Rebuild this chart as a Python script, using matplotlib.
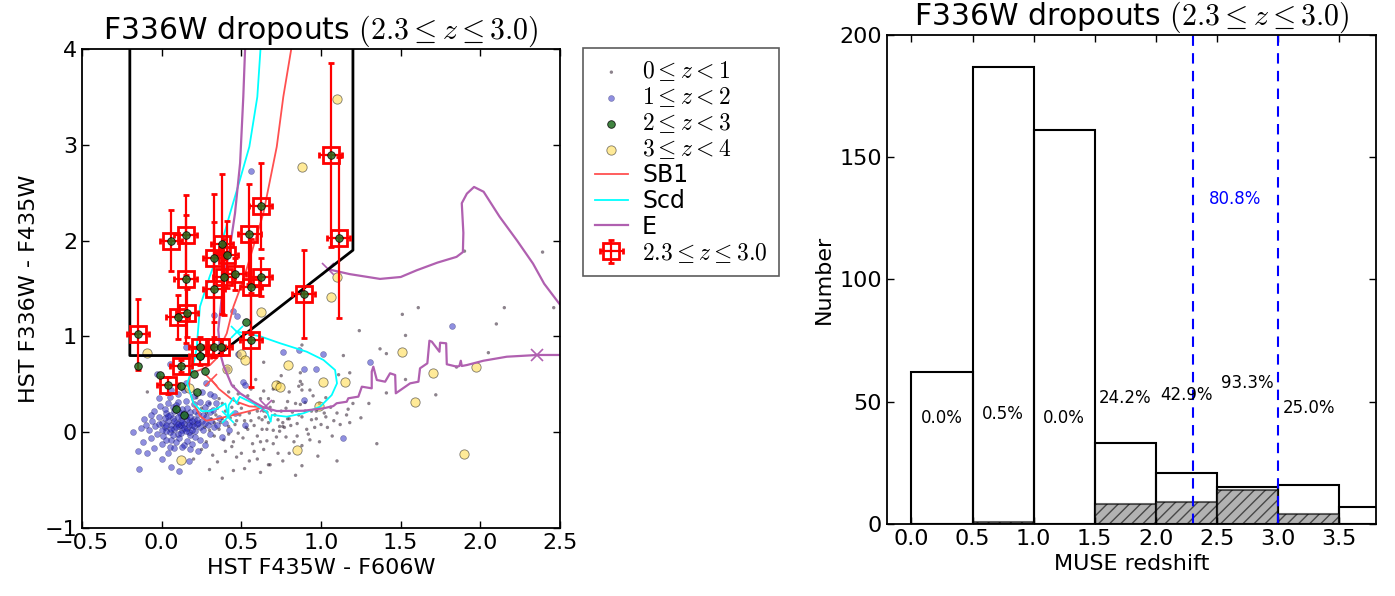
import numpy as np
import matplotlib.pyplot as plt

plt.rcParams['mathtext.fontset'] = 'cm'
plt.rcParams['font.family'] = 'DejaVu Sans'
plt.rcParams['xtick.direction'] = 'in'
plt.rcParams['ytick.direction'] = 'in'
plt.rcParams['xtick.top'] = True
plt.rcParams['ytick.right'] = True

# ---------------- left panel: colour-colour diagram ----------------
# (F435W - F606W, F336W - F435W) per redshift bin
pts_z01 = [
    (0.25, 0.25), (0.28, 0.20), (0.31, 0.14), (0.34, 0.18), (0.37, 0.10), (0.40, 0.22),
    (0.43, 0.15), (0.46, 0.08), (0.49, 0.18), (0.52, 0.12), (0.55, 0.20), (0.58, 0.07),
    (0.61, 0.15), (0.64, 0.22), (0.67, 0.10), (0.70, 0.02), (0.73, 0.13), (0.76, 0.06),
    (0.79, 0.14), (0.82, 0.21), (0.85, 0.09), (0.88, 0.16), (0.91, 0.03), (0.94, 0.13),
    (0.97, 0.22), (1.00, 0.08), (1.03, 0.16), (1.06, 0.26), (1.10, 0.20), (1.16, 0.18),
    (1.18, 0.10), (0.30, 0.02), (0.33, -0.04), (0.36, 0.03), (0.39, -0.08), (0.42, -0.02),
    (0.45, -0.10), (0.48, -0.01), (0.51, -0.06), (0.54, 0.03), (0.57, -0.12), (0.60, -0.04),
    (0.63, 0.03), (0.66, -0.09), (0.70, -0.12), (0.74, 0.01), (0.78, -0.05), (0.85, -0.04),
    (0.88, -0.14), (0.92, -0.02), (1.07, -0.04), (1.35, -0.12), (0.58, -0.20), (0.67, -0.34),
    (0.88, -0.35), (0.40, -0.20), (0.47, -0.26), (0.35, -0.31), (0.52, -0.38), (0.28, -0.10),
    (0.25, -0.18), (0.32, -0.24), (0.20, -0.28), (0.62, -0.42), (0.36, 0.35), (0.42, 0.42),
    (0.48, 0.30), (0.54, 0.38), (0.59, 0.29), (0.64, 0.43), (0.67, 0.35), (0.70, 0.32),
    (0.79, 0.32), (0.84, 0.30), (0.87, 0.29), (0.90, 0.31), (0.88, 0.44), (0.93, 0.44),
    (0.87, 0.53), (0.88, 0.50), (0.86, 0.48), (0.73, 0.52), (0.59, 0.55), (0.75, 0.59),
    (0.87, 0.62), (1.11, 0.60), (1.18, 0.62), (0.64, 0.73), (0.88, 0.91), (1.14, 0.80),
    (1.41, 0.41), (1.17, 0.24), (0.66, 0.21), (0.63, 0.13), (0.76, 0.10), (0.74, 0.06),
    (0.77, 0.05), (0.66, 0.03), (0.97, 0.14), (0.80, 0.14), (1.02, 0.20), (0.94, 0.22),
    (1.24, 1.06), (1.37, 0.87), (1.41, 0.82), (1.51, 1.23), (1.53, 1.01), (1.61, 1.30),
    (1.90, 1.89), (2.39, 1.88), (2.46, 1.30), (2.15, 1.30), (2.10, 1.13), (2.05, 0.83),
    (1.72, 0.39), (1.85, 0.68), (1.53, 0.55), (1.30, 0.30), (1.10, -0.30), (-0.09, 0.42),
    (0.30, -0.39), (0.68, -0.34), (0.22, 0.36), (0.45, 0.48), (0.99, -0.10), (0.80, -0.22),
    (0.35, 0.25), (0.38, 0.30), (0.44, 0.26), (0.47, 0.12), (0.50, 0.25), (0.53, 0.05),
    (0.56, 0.12), (0.60, 0.22), (0.62, -0.10), (0.65, 0.16), (0.68, 0.26), (0.71, 0.18),
    (0.72, -0.05), (0.75, 0.22), (0.78, 0.25), (0.81, 0.07), (0.83, -0.10), (0.86, 0.18),
    (0.90, 0.22), (0.93, -0.08), (0.96, 0.05), (0.99, 0.30), (1.04, 0.05), (1.08, 0.12),
    (1.12, 0.08), (1.20, 0.30), (1.25, 0.15), (0.44, -0.15), (0.50, -0.22), (0.55, -0.30),
    (0.60, -0.28), (0.64, -0.18), (0.73, -0.22), (0.76, -0.30), (0.42, 0.06), (0.38, 0.14),
    (0.30, 0.30), (0.27, 0.05), (0.33, 0.10), (0.48, 0.40), (0.56, 0.45), (0.62, 0.35),
    (0.95, 0.38), (1.03, 0.36), (0.98, -0.25), (0.84, -0.45), (0.45, -0.40), (0.38, -0.48),
    (0.70, 0.45), (0.80, 0.42),
]
pts_z12 = [
    (0.00, 0.10), (0.02, 0.05), (0.04, 0.12), (0.05, 0.00), (0.06, 0.08), (0.07, 0.15),
    (0.08, 0.03), (0.09, 0.10), (0.10, -0.02), (0.11, 0.06), (0.12, 0.13), (0.13, 0.02),
    (0.14, 0.09), (0.15, 0.17), (0.16, 0.04), (0.17, 0.11), (0.18, -0.03), (0.19, 0.07),
    (0.20, 0.14), (0.21, 0.01), (0.22, 0.09), (0.23, 0.19), (0.24, 0.05), (0.25, 0.12),
    (0.03, 0.20), (0.08, 0.22), (0.13, 0.24), (0.18, 0.21), (0.01, -0.04), (0.06, -0.08),
    (0.11, -0.06), (0.16, -0.09), (0.21, -0.05), (0.26, 0.02), (0.28, 0.16), (0.30, 0.21),
    (0.27, 0.26), (0.32, 0.23), (0.29, 0.08), (-0.02, 0.16), (-0.04, 0.06), (-0.06, 0.12),
    (-0.03, -0.02), (-0.08, 0.02), (-0.10, 0.08), (-0.05, 0.22), (-0.01, 0.27), (0.04, 0.30),
    (0.10, 0.31), (0.15, 0.33), (0.20, 0.29), (0.24, 0.32), (0.34, 0.30), (0.12, 0.18),
    (0.07, 0.26), (0.17, 0.00), (0.03, 0.01), (0.09, -0.10), (0.14, -0.13), (0.19, -0.12),
    (0.24, -0.08), (0.05, -0.15), (0.00, -0.12), (-0.05, -0.17), (0.04, -0.22), (0.13, -0.15),
    (0.23, -0.20), (0.06, -0.36), (-0.14, -0.38), (-0.18, 0.00), (-0.12, -0.10), (-0.09, -0.22),
    (0.15, 0.89), (0.05, 0.71), (-0.03, 0.61), (0.15, 0.51), (0.28, 0.51), (0.20, 0.38),
    (0.51, 0.52), (0.48, 0.82), (0.76, 0.84), (0.86, 0.86), (1.01, 0.82), (0.41, 0.66),
    (0.45, 1.26), (0.47, 1.21), (0.33, 1.22), (0.56, 2.73), (0.89, 0.66), (0.97, 0.66),
    (0.52, 0.49), (1.31, 0.73), (0.89, 0.34), (1.14, -0.06), (0.52, 0.08), (1.82, 1.11),
    (0.30, 0.40), (0.36, 0.15), (0.40, 0.10), (0.33, 0.05), (0.42, 0.02), (0.38, -0.05),
    (0.46, 0.20), (0.30, -0.02), (0.27, 0.10), (0.10, 0.40), (0.06, 0.44),
    (0.02, 0.15), (0.05, 0.18), (0.08, 0.12), (0.10, 0.16), (0.12, 0.08), (0.14, 0.04),
    (0.16, 0.14), (0.18, 0.16), (0.20, 0.06), (0.22, 0.13), (0.11, 0.21), (0.06, 0.03),
    (0.09, 0.05), (0.13, 0.11), (0.17, 0.07), (0.03, 0.08), (0.00, 0.02), (-0.02, 0.09),
    (0.07, -0.03), (0.12, -0.01), (0.15, 0.01), (0.19, 0.02), (0.23, 0.10), (0.26, 0.18),
    (0.21, 0.22), (0.16, 0.25), (0.09, 0.28), (0.02, 0.24), (-0.07, 0.18), (-0.11, 0.14),
    (-0.13, 0.04), (-0.07, -0.06), (0.03, -0.08), (0.08, -0.17), (0.18, -0.18), (0.27, -0.13),
    (0.31, 0.12), (0.35, 0.08), (0.29, 0.30), (0.33, 0.38), (0.25, 0.42), (0.14, 0.44),
    (-0.02, 0.36), (0.05, 0.37), (0.19, 0.12), (0.10, 0.09), (0.04, 0.17), (0.14, 0.20),
    (-0.15, -0.20), (0.00, -0.28), (0.17, -0.30), (0.11, -0.40),
]
pts_z23_extra = [
    (-0.15, 0.69), (0.53, 1.15), (-0.01, 0.60), (0.20, 0.61), (0.27, 0.64),
    (0.12, 0.48), (0.22, 0.42), (0.09, 0.24), (0.14, 0.18), (0.24, 0.80),
]
pts_z34 = [
    (1.10, 3.48), (0.88, 2.77), (1.10, 1.62), (1.06, 1.41), (0.62, 1.25), (-0.09, 0.83),
    (0.50, 0.82), (0.52, 0.75), (0.41, 0.66), (0.79, 0.70), (0.17, 0.46), (0.12, -0.29),
    (0.72, 0.49), (0.74, 0.47), (0.85, -0.19), (1.51, 0.84), (1.70, 0.62), (1.01, 0.52),
    (1.15, 0.52), (0.99, 0.27), (1.59, 0.31), (1.97, 0.68), (1.90, -0.23),
]

# MUSE sources with 2.3 <= z <= 3.0
sel_x = [1.06, 1.11, 0.62, 0.55, 0.15, 0.06, 0.38, 0.41, 0.33, 0.46, 0.39, 0.62, 0.15,
         0.56, 0.33, 0.89, 0.16, 0.10, -0.15, 0.56, 0.24, 0.33, 0.37, 0.24, 0.12, 0.04]
sel_y = [2.89, 2.03, 2.36, 2.07, 2.06, 2.00, 1.96, 1.85, 1.82, 1.65, 1.62, 1.62, 1.60,
         1.52, 1.49, 1.44, 1.24, 1.20, 1.02, 0.96, 0.89, 0.89, 0.89, 0.80, 0.69, 0.49]
sel_xerr = [0.07] * 26
sel_yerr = [0.96, 0.84, 0.45, 0.52, 0.42, 0.32, 0.73, 0.35, 0.67, 0.17, 0.40, 0.20, 0.67,
            0.50, 0.70, 0.46, 0.25, 0.23, 0.37, 0.49, 0.10, 0.10, 0.08, 0.10, 0.06, 0.09]

# galaxy template tracks
track_sb1 = [
    (0.31, 0.55), (0.36, 0.45), (0.45, 0.33), (0.55, 0.27), (0.64, 0.26), (0.55, 0.22),
    (0.45, 0.18), (0.35, 0.14), (0.28, 0.12), (0.24, 0.17), (0.20, 0.30), (0.17, 0.45),
    (0.178, 0.615), (0.24, 0.649), (0.303, 0.701), (0.355, 0.788), (0.377, 0.928),
    (0.408, 1.03), (0.45, 1.31), (0.512, 1.589), (0.575, 1.936), (0.638, 2.285),
    (0.68, 2.632), (0.722, 2.98), (0.763, 3.5), (0.812, 3.99), (0.83, 4.3),
]
track_scd = [
    (0.47, 1.05), (0.62, 1.00), (0.74, 0.93), (0.91, 0.84), (1.015, 0.754), (1.088, 0.649),
    (1.10, 0.51), (1.067, 0.388), (0.994, 0.266), (0.889, 0.197), (0.785, 0.162),
    (0.69, 0.18), (0.684, 0.11), (0.66, 0.214), (0.575, 0.30), (0.49, 0.37), (0.47, 0.30),
    (0.45, 0.36), (0.42, 0.28), (0.418, 0.156), (0.40, 0.30), (0.35, 0.25), (0.30, 0.22),
    (0.25, 0.22), (0.20, 0.30), (0.16, 0.51), (0.19, 0.65), (0.21, 0.79), (0.22, 0.89),
    (0.24, 1.31), (0.30, 1.62), (0.37, 1.94), (0.43, 2.29), (0.49, 2.63), (0.55, 2.98),
    (0.60, 3.50), (0.62, 4.00), (0.64, 4.30),
]
track_e = [
    (1.046, 1.70), (1.18, 1.65), (1.37, 1.60), (1.50, 1.62), (1.60, 1.69), (1.73, 1.77),
    (1.85, 1.83), (1.89, 1.88), (1.893, 2.08), (1.883, 2.39), (1.915, 2.49), (1.96, 2.56),
    (2.02, 2.51), (2.12, 2.25), (2.23, 2.00), (2.33, 1.76), (2.40, 1.55), (2.50, 1.33),
    (2.70, 1.00), (2.72, 0.81), (2.50, 0.806), (2.358, 0.806), (2.166, 0.788),
    (2.019, 0.746), (1.915, 0.701), (1.883, 0.691), (1.877, 0.746), (1.868, 0.691),
    (1.852, 0.684), (1.789, 0.709), (1.785, 0.928), (1.747, 0.934), (1.743, 0.84),
    (1.695, 0.945), (1.68, 0.955), (1.667, 0.719), (1.621, 0.667), (1.611, 0.527),
    (1.559, 0.51), (1.469, 0.406), (1.465, 0.597), (1.433, 0.615), (1.402, 0.527),
    (1.35, 0.545), (1.328, 0.684), (1.318, 0.632), (1.318, 0.458), (1.256, 0.475),
    (1.234, 0.371), (1.171, 0.354), (1.161, 0.318), (1.098, 0.302), (1.077, 0.273),
    (1.015, 0.249), (0.889, 0.224), (0.722, 0.221), (0.638, 0.26), (0.575, 0.318),
    (0.492, 0.406), (0.439, 0.493), (0.408, 0.615), (0.387, 0.701), (0.37, 0.806),
    (0.355, 1.067), (0.377, 1.41), (0.408, 1.76), (0.429, 1.936), (0.46, 2.285),
    (0.492, 2.81), (0.512, 3.50), (0.523, 3.99), (0.53, 4.3),
]
marks_sb1 = [(0.31, 0.55)]
marks_scd = [(0.418, 0.156), (0.47, 1.05)]
marks_e = [(1.046, 1.70), (2.358, 0.806), (0.655, 0.27)]

box_x = [-0.2, -0.2, 0.35, 1.2, 1.2]
box_y = [4.0, 0.8, 0.8, 1.9, 4.0]

# ---------------- right panel: redshift histogram ----------------
bin_edges = [0.0, 0.5, 1.0, 1.5, 2.0, 2.5, 3.0, 3.5, 4.0]
n_all = [62, 187, 161, 33, 21, 15, 16, 7]
n_drop = [0, 1, 0, 8, 9, 14, 4, 0]
pct_labels = ['0.0%', '0.5%', '0.0%', '24.2%', '42.9%', '93.3%', '25.0%']
pct_y = [43.5, 44.9, 43.5, 51.7, 52.8, 57.5, 47.6]
z_window = [2.3, 3.0]
window_label = '80.8%'

title = 'F336W dropouts $(2.3 \\leq z \\leq 3.0)$'

fig = plt.figure(figsize=(13.95, 5.96), dpi=100)
ax1 = fig.add_axes([0.0588, 0.1141, 0.3427, 0.8037])
ax2 = fig.add_axes([0.6358, 0.1208, 0.3505, 0.8205])

a = np.array(pts_z01)
ax1.scatter(a[:, 0], a[:, 1], s=6, c='#403040', edgecolors='none', alpha=0.6,
            label='$0 \\leq z < 1$')
a = np.array(pts_z12)
ax1.scatter(a[:, 0], a[:, 1], s=18, c='#2020c0', edgecolors='#202060', linewidths=0.4,
            alpha=0.5, label='$1 \\leq z < 2$')
g = np.array(pts_z23_extra + list(zip(sel_x, sel_y)))
ax1.scatter(g[:, 0], g[:, 1], s=30, c='#1f6e1f', edgecolors='k', linewidths=0.6,
            alpha=0.85, zorder=5, label='$2 \\leq z < 3$')
a = np.array(pts_z34)
ax1.scatter(a[:, 0], a[:, 1], s=45, c='#ffd633', edgecolors='k', linewidths=0.6,
            alpha=0.5, label='$3 \\leq z < 4$')

for trk, mk, col, lw, name in [(track_sb1, marks_sb1, '#ff5050', 1.3, 'SB1'),
                               (track_scd, marks_scd, 'cyan', 1.3, 'Scd'),
                               (track_e, marks_e, '#b060b0', 1.6, 'E')]:
    t = np.array(trk)
    ax1.plot(t[:, 0], t[:, 1], color=col, lw=lw, label=name)
    m = np.array(mk)
    ax1.plot(m[:, 0], m[:, 1], 'x', color=col, ms=9, mew=1.2)

ax1.plot(box_x, box_y, color='k', lw=2)

ax1.errorbar(sel_x, sel_y, xerr=sel_xerr, yerr=sel_yerr, fmt='s', mfc='none', mec='r',
             mew=2, ms=11, ecolor='r', elinewidth=1.6, capsize=2, capthick=1.2,
             label='$2.3 \\leq z \\leq 3.0$')

ax1.set_xlim(-0.5, 2.5)
ax1.set_ylim(-1, 4)
ax1.set_xticks([-0.5, 0.0, 0.5, 1.0, 1.5, 2.0, 2.5])
ax1.set_yticks([-1, 0, 1, 2, 3, 4])
ax1.set_xlabel('HST F435W - F606W', fontsize=16)
ax1.set_ylabel('HST F336W - F435W', fontsize=16)
ax1.set_title(title, fontsize=21.5, pad=4)

h, l = ax1.get_legend_handles_labels()
leg = ax1.legend(h, l, loc='upper left', bbox_to_anchor=(1.048, 1.003), borderaxespad=0,
                 fontsize=17, scatterpoints=1, numpoints=1, handlelength=1.4,
                 labelspacing=0.08, fancybox=False, frameon=True, handletextpad=0.6,
                 borderpad=0.5)
leg.get_frame().set_edgecolor('0.2')
leg.get_frame().set_linewidth(1.2)

# histogram
lefts = bin_edges[:-1]
ax2.bar(lefts, n_all, width=0.5, align='edge', fill=False, edgecolor='k', lw=1.5)
ax2.bar(lefts, n_drop, width=0.5, align='edge', facecolor='gray', edgecolor='k',
        alpha=0.6, hatch='///', lw=1.5)
for i, lab in enumerate(pct_labels):
    ax2.text(lefts[i] + 0.25, pct_y[i], lab, ha='center', va='center', fontsize=12)
for zz in z_window:
    ax2.axvline(zz, color='b', ls='--', dashes=(5, 3.5), lw=1.5)
ax2.text(np.mean(z_window), 133, window_label, color='b', ha='center', va='center',
         fontsize=12)
ax2.set_xlim(-0.2, 3.8)
ax2.set_ylim(0, 200)
ax2.set_xticks([0.0, 0.5, 1.0, 1.5, 2.0, 2.5, 3.0, 3.5])
ax2.set_yticks([0, 50, 100, 150, 200])
ax2.set_xlabel('MUSE redshift', fontsize=16)
ax2.set_ylabel('Number', fontsize=16)
ax2.set_title(title, fontsize=21.5, pad=4)

for ax in (ax1, ax2):
    ax.tick_params(labelsize=16, length=5, width=1)
    for sp in ax.spines.values():
        sp.set_linewidth(1.3)

fig.savefig('out.png', dpi=100)
